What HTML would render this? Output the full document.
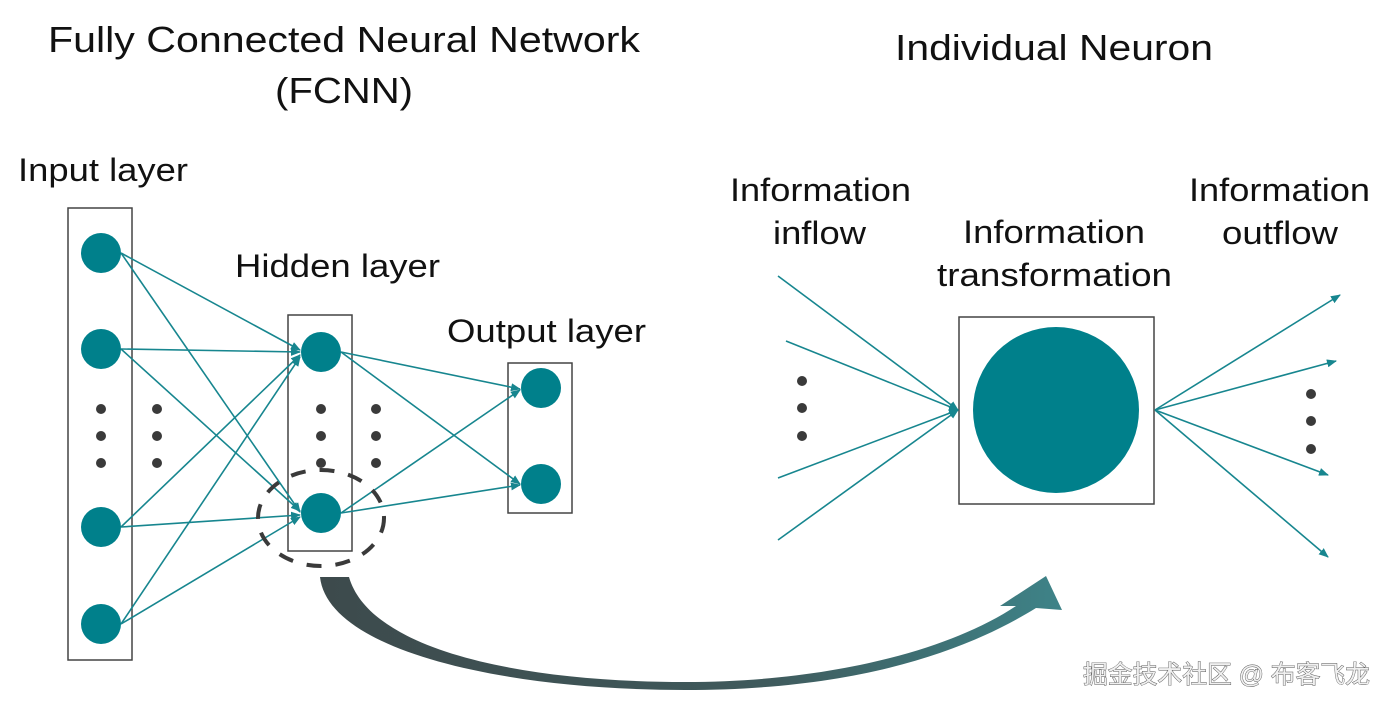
<!DOCTYPE html>
<html><head><meta charset="utf-8"><style>
html,body{margin:0;padding:0;background:#fff;}
svg{display:block;}
text{font-family:"Liberation Sans",Arial,sans-serif;fill:#111;}
</style></head><body>
<svg width="1389" height="706" viewBox="0 0 1389 706" xmlns="http://www.w3.org/2000/svg">
<defs>
<marker id="ah" markerWidth="10" markerHeight="8" refX="9" refY="4" orient="auto" markerUnits="userSpaceOnUse">
<path d="M0,0 L10,4 L0,8 z" fill="#17868f"/>
</marker>
<linearGradient id="g" x1="0" y1="0" x2="1" y2="0">
<stop offset="0" stop-color="#3d4a4c"/><stop offset="0.6" stop-color="#3f5a5c"/><stop offset="1" stop-color="#3e8388"/>
</linearGradient>
</defs>
<text x="48" y="52" font-size="36" textLength="592" lengthAdjust="spacingAndGlyphs">Fully Connected Neural Network</text>
<text x="275" y="103" font-size="36" textLength="138" lengthAdjust="spacingAndGlyphs">(FCNN)</text>
<text x="895" y="60" font-size="36" textLength="318" lengthAdjust="spacingAndGlyphs">Individual Neuron</text>
<text x="18" y="181" font-size="32" textLength="170" lengthAdjust="spacingAndGlyphs">Input layer</text>
<text x="235" y="277" font-size="32" textLength="205" lengthAdjust="spacingAndGlyphs">Hidden layer</text>
<text x="447" y="342" font-size="32" textLength="199" lengthAdjust="spacingAndGlyphs">Output layer</text>
<text x="730" y="201" font-size="32" textLength="181" lengthAdjust="spacingAndGlyphs">Information</text>
<text x="773" y="244" font-size="32" textLength="93" lengthAdjust="spacingAndGlyphs">inflow</text>
<text x="963" y="243" font-size="32" textLength="182" lengthAdjust="spacingAndGlyphs">Information</text>
<text x="937" y="286" font-size="32" textLength="235" lengthAdjust="spacingAndGlyphs">transformation</text>
<text x="1189" y="201" font-size="32" textLength="181" lengthAdjust="spacingAndGlyphs">Information</text>
<text x="1222" y="244" font-size="32" textLength="116" lengthAdjust="spacingAndGlyphs">outflow</text>

<g fill="none" stroke="#444" stroke-width="1.5">
<rect x="68" y="208" width="64" height="452"/>
<rect x="288" y="315" width="64" height="236"/>
<rect x="508" y="363" width="64" height="150"/>
<rect x="959" y="317" width="195" height="187"/>
</g>

<g stroke="#17868f" stroke-width="1.6" marker-end="url(#ah)">
<line x1="121" y1="253" x2="300" y2="350"/>
<line x1="121" y1="253" x2="300" y2="512"/>
<line x1="121" y1="349" x2="300" y2="352"/>
<line x1="121" y1="349" x2="300" y2="511"/>
<line x1="121" y1="527" x2="300" y2="355"/>
<line x1="121" y1="527" x2="300" y2="515"/>
<line x1="121" y1="624" x2="300" y2="357"/>
<line x1="121" y1="624" x2="300" y2="517"/>
<line x1="341" y1="352" x2="520" y2="389"/>
<line x1="341" y1="352" x2="520" y2="484"/>
<line x1="341" y1="513" x2="520" y2="390"/>
<line x1="341" y1="513" x2="520" y2="485"/>
<line x1="778" y1="276" x2="958" y2="410"/>
<line x1="786" y1="341" x2="958" y2="410"/>
<line x1="778" y1="478" x2="958" y2="410"/>
<line x1="778" y1="540" x2="958" y2="410"/>
<line x1="1155" y1="410" x2="1340" y2="295"/>
<line x1="1155" y1="410" x2="1336" y2="361"/>
<line x1="1155" y1="410" x2="1328" y2="475"/>
<line x1="1155" y1="410" x2="1328" y2="557"/>
</g>

<g fill="#00808b">
<circle cx="101" cy="253" r="20"/><circle cx="101" cy="349" r="20"/>
<circle cx="101" cy="527" r="20"/><circle cx="101" cy="624" r="20"/>
<circle cx="321" cy="352" r="20"/><circle cx="321" cy="513" r="20"/>
<circle cx="541" cy="388" r="20"/><circle cx="541" cy="484" r="20"/>
<circle cx="1056" cy="410" r="83"/>
</g>
<g fill="#3a3a3a">
<circle cx="101" cy="409" r="5"/><circle cx="101" cy="436" r="5"/><circle cx="101" cy="463" r="5"/>
<circle cx="157" cy="409" r="5"/><circle cx="157" cy="436" r="5"/><circle cx="157" cy="463" r="5"/>
<circle cx="321" cy="409" r="5"/><circle cx="321" cy="436" r="5"/><circle cx="321" cy="463" r="5"/>
<circle cx="376" cy="409" r="5"/><circle cx="376" cy="436" r="5"/><circle cx="376" cy="463" r="5"/>
<circle cx="802" cy="381" r="5"/><circle cx="802" cy="408" r="5"/><circle cx="802" cy="436" r="5"/>
<circle cx="1311" cy="394" r="5"/><circle cx="1311" cy="421" r="5"/><circle cx="1311" cy="449" r="5"/>
</g>
<ellipse cx="321" cy="518" rx="63" ry="48" fill="none" stroke="#3a3a3a" stroke-width="4" stroke-dasharray="15,14"/>

<path d="M320,577 C328,650 500,690 685,690 C850,690 960,655 1036,608 L1062,610 L1046,576 L1000,606 L1016,606 C950,650 830,682 685,682 C520,682 370,650 349,577 Z" fill="url(#g)"/>

<text x="1083" y="683" font-size="25" textLength="287" lengthAdjust="spacingAndGlyphs" style="font-family:'Liberation Sans','Noto Sans CJK SC',sans-serif;fill:#f0f0f0;stroke:#555;stroke-width:0.9;paint-order:stroke">掘金技术社区 @ 布客飞龙</text>
</svg>
</body></html>
